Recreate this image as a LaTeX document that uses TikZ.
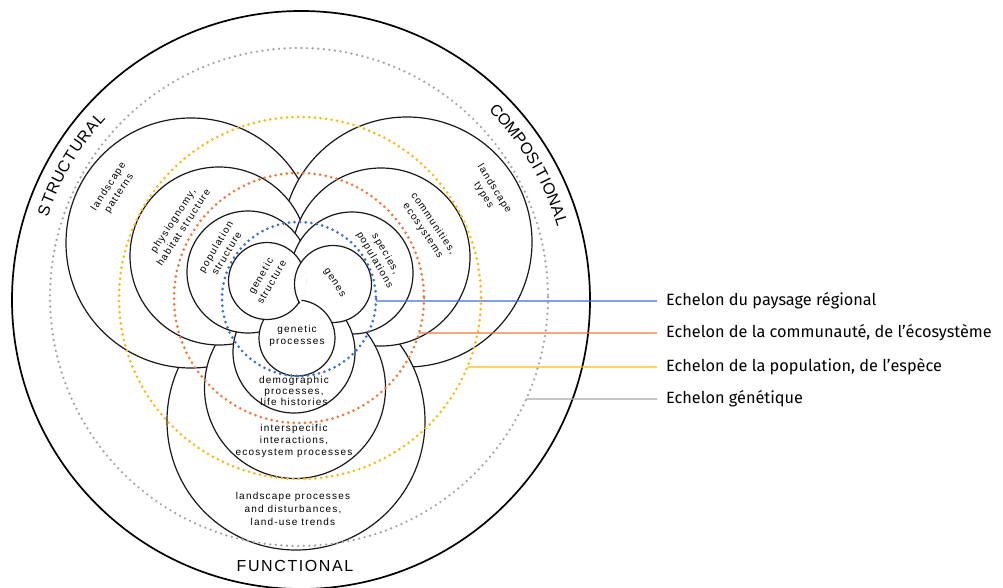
\documentclass[tikz,border=0pt]{standalone}
\usepackage{fontspec}
\setmainfont{Liberation Sans}
\newfontfamily\letterfont[LetterSpace=12]{Liberation Sans}
\newfontfamily\capsfont[LetterSpace=10]{Liberation Sans}
\newfontfamily\legendfont{Fira Sans}
\usetikzlibrary{calc}

\definecolor{echelonBlue}{HTML}{3E6FD6}
\definecolor{echelonOrange}{HTML}{EE7A3C}
\definecolor{echelonYellow}{HTML}{F7BC1C}
\definecolor{echelonGray}{HTML}{A6A6A6}
\newcommand{\ringWidth}[0]{1.2pt}
\newcommand{\dotWidth}[0]{3pt}
\newcommand{\axisFont}[0]{\capsfont\fontsize{16}{16}\selectfont}

\begin{document}
\begin{tikzpicture}[x=1pt, y=-1pt]
  \tikzset{
    ring/.style={draw=black!90, line width=\ringWidth, fill=white},
    echelon/.style={line width=\dotWidth, line cap=round, dash pattern=on 0pt off 5.6pt},
    leader/.style={line width=1.2pt},
    cell/.style={font=\letterfont\fontsize{10}{12.5}\selectfont, align=center, inner sep=0pt},
    letter/.style={font=\axisFont, inner sep=0pt},
    legend/.style={font=\legendfont\fontsize{16.3}{19}\selectfont, anchor=west, inner sep=0pt}
  }
  \useasboundingbox (0,0) rectangle (1003,588);
  \coordinate (O) at (301,300);
  \draw[line width=1.7pt] (O) circle[radius=289];

  % structural / compositional / functional rings, outer level first
  \foreach \sx/\sy/\sr/\cx/\cy/\cr/\fx/\fy/\fr in {
      191/243/125/407/242/125/296/421/129,
      219/256/89/381/257/89/295/388/90.5,
      248/272/61/352/273/61/294/352/61,
      267/281/38.5/333/284/38.5/297/338/38}{
    \draw[ring] (\cx,\cy) circle[radius=\cr];
    \draw[ring] (\fx,\fy) circle[radius=\fr];
    \draw[ring] (\sx,\sy) circle[radius=\sr];
    \begin{scope}
      \clip (\sx,\sy) circle[radius=\sr+1];
      \draw[ring] (\cx,\cy) circle[radius=\cr];
    \end{scope}
  }

  % echelons
  \coordinate (gene-c) at (299,297);
  \coordinate (pop-c) at (300,298);
  \coordinate (comm-c) at (299,298);
  \coordinate (region-c) at (299,299);
  \draw[echelon, echelonGray, line width=2.6pt] (gene-c) circle[radius=249];
  \draw[echelon, echelonYellow] (pop-c) circle[radius=181];
  \draw[echelon, echelonOrange] (comm-c) circle[radius=125];
  \draw[echelon, echelonBlue] (region-c) circle[radius=77];

  % labels in the rings
  \node[cell, rotate=57] (patterns) at (114,190) {landscape\\patterns};
  \node[cell, rotate=57] (physio) at (178,224) {physiognomy,\\habitat structure};
  \node[cell, rotate=59] (popstruct) at (221,250) {population\\structure};
  \node[cell, rotate=60] (genstruct) at (266,279) {genetic\\structure};
  \node[cell, rotate=-57] (genes) at (334,283) {genes};
  \node[cell, rotate=-60] (species) at (380,257) {species,\\populations};
  \node[cell, rotate=-56] (communities) at (428,227) {communities,\\ecosystems};
  \node[cell, rotate=-58] (types) at (489,192) {landscape\\types};
  \node[cell] (genproc) at (297,336) {genetic\\processes};
  \node[cell, font=\letterfont\fontsize{10}{10.8}\selectfont] (demo) at (294,391) {demographic\\processes,\\life histories};
  \node[cell, font=\letterfont\fontsize{10}{12}\selectfont] (inter) at (294,441) {interspecific\\interactions,\\ecosystem processes};
  \node[cell, font=\letterfont\fontsize{10}{13}\selectfont] (landproc) at (293,509) {landscape processes\\and disturbances,\\land-use trends};

  % attribute names, set letter by letter round the rim
  \foreach \ch/\w [count=\i, remember=\edge as \start (initially 0)] in
      {S/1,T/1,R/1,U/1,C/1,T/1,U/1,R/1,A/1,L/0.9}{
    \pgfmathsetmacro\edge{\start+\w}
    \pgfmathsetmacro\t{-162.1+(\start+\w/2)*2.55}
    \node[letter, rotate={-\t-90}] (struct-\i) at ($(O)+(\t:272)$) {\ch};
  }
  \foreach \ch/\w [count=\i, remember=\edge as \start (initially 0)] in
      {C/1,O/1,M/1.1,P/1,O/1,S/1,I/0.5,T/1,I/0.5,O/1,N/1,A/1,L/0.9}{
    \pgfmathsetmacro\edge{\start+\w}
    \pgfmathsetmacro\t{-45.26+(\start+\w/2)*2.46}
    \node[letter, rotate={-\t-90}] (comp-\i) at ($(O)+(\t:272)$) {\ch};
  }
  \node[letter] (functional) at (295,566) {FUNCTIONAL};

  % legend
  \node[legend] (lbl-region) at (666,301) {Echelon du paysage régional};
  \node[legend] (lbl-comm) at (666,333) {Echelon de la communauté, de l’écosystème};
  \node[legend] (lbl-pop) at (666,367) {Echelon de la population, de l’espèce};
  \node[legend] (lbl-gene) at (666,399) {Echelon génétique};
  \coordinate (region-end) at ($(region-c)+({asin(2/77)}:77)$);
  \coordinate (comm-end) at ($(comm-c)+({asin(35/125)}:125)$);
  \coordinate (pop-end) at ($(pop-c)+({asin(69/181)}:181)$);
  \coordinate (gene-end) at ($(gene-c)+({asin(102/249)}:249)$);
  \draw[leader, echelonBlue] (region-end) -- ([xshift=-9pt]lbl-region.west);
  \draw[leader, echelonOrange] (comm-end) -- ([xshift=-9pt]lbl-comm.west);
  \draw[leader, echelonYellow] (pop-end) -- ([xshift=-9pt]lbl-pop.west);
  \draw[leader, echelonGray] (gene-end) -- ([xshift=-9pt]lbl-gene.west);
\end{tikzpicture}
\end{document}
